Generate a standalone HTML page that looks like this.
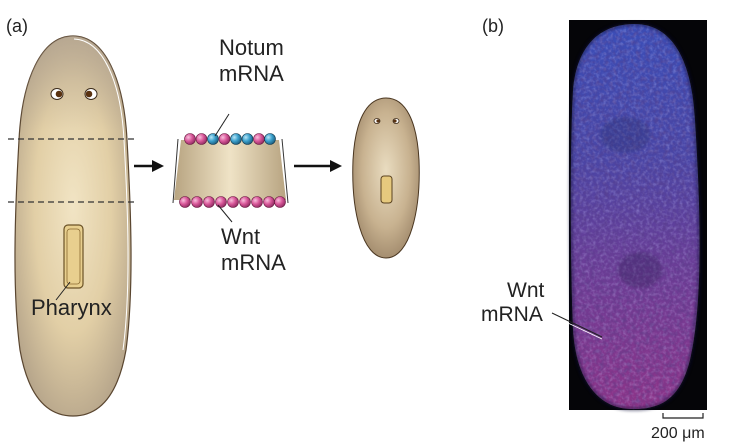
<!DOCTYPE html>
<html><head><meta charset="utf-8">
<style>
html,body{margin:0;padding:0;background:#fff;}
svg{display:block;font-family:"Liberation Sans",sans-serif;}
</style></head>
<body>
<svg width="730" height="442" viewBox="0 0 730 442">
<defs>
  <radialGradient id="body" cx="0.5" cy="0.45" r="0.6">
    <stop offset="0" stop-color="#f1e4c4"/>
    <stop offset="0.55" stop-color="#e2cfa6"/>
    <stop offset="1" stop-color="#b5a48a"/>
  </radialGradient>
  <linearGradient id="bodyTop" x1="0" y1="0" x2="0" y2="1">
    <stop offset="0" stop-color="#a89a8c" stop-opacity="0.6"/>
    <stop offset="0.25" stop-color="#a89a8c" stop-opacity="0"/>
  </linearGradient>
  <radialGradient id="small" cx="0.5" cy="0.45" r="0.6">
    <stop offset="0" stop-color="#e9dcc0"/>
    <stop offset="0.6" stop-color="#c8b290"/>
    <stop offset="1" stop-color="#9c8568"/>
  </radialGradient>
  <linearGradient id="frag" x1="0" y1="0" x2="1" y2="0">
    <stop offset="0" stop-color="#b8a481"/>
    <stop offset="0.5" stop-color="#efe3c6"/>
    <stop offset="1" stop-color="#b8a481"/>
  </linearGradient>
  <radialGradient id="pink" cx="0.35" cy="0.35" r="0.7">
    <stop offset="0" stop-color="#f8c0dc"/><stop offset="0.5" stop-color="#d9589a"/><stop offset="1" stop-color="#8e2a60"/>
  </radialGradient>
  <radialGradient id="blue" cx="0.35" cy="0.35" r="0.7">
    <stop offset="0" stop-color="#b9e6f6"/><stop offset="0.5" stop-color="#3aa0cc"/><stop offset="1" stop-color="#1c5a7a"/>
  </radialGradient>
  <linearGradient id="micro" x1="0" y1="0" x2="0" y2="1">
    <stop offset="0" stop-color="#3a4eb8"/>
    <stop offset="0.35" stop-color="#4a46a6"/>
    <stop offset="0.6" stop-color="#683e98"/>
    <stop offset="1" stop-color="#8e3488"/>
  </linearGradient>
  <filter id="grain" x="0" y="0" width="100%" height="100%">
    <feTurbulence type="fractalNoise" baseFrequency="0.3" numOctaves="2" seed="3" result="n"/>
    <feColorMatrix in="n" type="matrix" values="0 0 0 0 0.6  0 0 0 0 0.6  0 0 0 0 1  0 0 0 1.6 -0.65" result="c"/>
    <feComposite in="c" in2="SourceGraphic" operator="in"/>
  </filter>
  <filter id="grainDark" x="0" y="0" width="100%" height="100%">
    <feTurbulence type="fractalNoise" baseFrequency="0.22" numOctaves="2" seed="9" result="n"/>
    <feColorMatrix in="n" type="matrix" values="0 0 0 0 0.1  0 0 0 0 0.05  0 0 0 0 0.25  0 0 0 1.8 -0.7" result="c"/>
    <feComposite in="c" in2="SourceGraphic" operator="in"/>
  </filter>
  <filter id="soft"><feGaussianBlur stdDeviation="1.5"/></filter>
  <clipPath id="microClip"><path d="M635,24 C672,24 692,60 695,120 C700,200 704,300 690,360 C680,400 660,410 630,409 C598,408 576,380 573,330 C570,260 570,140 573,90 C577,45 600,24 635,24 Z"/></clipPath>
</defs>

<!-- Panel (a) -->
<text x="6" y="32" font-size="18" fill="#222">(a)</text>

<g>
  <path d="M73,36 C105,36 124,80 127,140 C131,210 134,290 126,350 C118,395 100,416 73,416 C46,416 28,395 20,350 C12,290 15,210 19,140 C22,80 41,36 73,36 Z" fill="url(#body)" stroke="#5a4630" stroke-width="1.2"/>
  <path d="M73,36 C105,36 124,80 127,140 C131,210 134,290 126,350 C118,395 100,416 73,416 C46,416 28,395 20,350 C12,290 15,210 19,140 C22,80 41,36 73,36 Z" fill="url(#bodyTop)"/>
  <path d="M74,39 C103,40 121,82 124,140 C128,210 131,290 123,350" fill="none" stroke="#fff" stroke-width="1"/>
  <g>
    <ellipse cx="57" cy="94" rx="6" ry="5.5" fill="#fff" stroke="#3a2a1a" stroke-width="1"/>
    <circle cx="59" cy="94" r="3.3" fill="#5a3210"/>
    <ellipse cx="91" cy="94" rx="6" ry="5.5" fill="#fff" stroke="#3a2a1a" stroke-width="1"/>
    <circle cx="89" cy="94" r="3.3" fill="#5a3210"/>
  </g>
  <rect x="64" y="225" width="19" height="63" rx="4" fill="#e8cf8e" stroke="#6b5226" stroke-width="1.2"/>
  <rect x="67" y="229" width="13" height="55" rx="3" fill="none" stroke="#8a6a30" stroke-width="0.8"/>
  <line x1="70" y1="282" x2="56" y2="300" stroke="#222" stroke-width="1"/>
  <text x="31" y="315" font-size="22" fill="#222">Pharynx</text>
</g>
<line x1="8" y1="139" x2="138" y2="139" stroke="#333" stroke-width="1.3" stroke-dasharray="6,4"/>
<line x1="8" y1="202" x2="138" y2="202" stroke="#333" stroke-width="1.3" stroke-dasharray="6,4"/>

<g>
  <line x1="134" y1="166" x2="154" y2="166" stroke="#111" stroke-width="2.5"/>
  <polygon points="152,160 164,166 152,172" fill="#111"/>
</g>

<g>
  <path d="M181,140 L279,140 L286,200 L174,200 Z" fill="url(#frag)"/>
  <line x1="178" y1="139" x2="173" y2="203" stroke="#333" stroke-width="1"/>
  <line x1="282" y1="139" x2="288" y2="203" stroke="#333" stroke-width="1"/>
  <g>
    <circle cx="190" cy="139" r="5.5" fill="url(#pink)" stroke="#6a1a40" stroke-width="0.6"/>
    <circle cx="201.5" cy="139" r="5.5" fill="url(#pink)" stroke="#6a1a40" stroke-width="0.6"/>
    <circle cx="213" cy="139" r="5.5" fill="url(#blue)" stroke="#123a50" stroke-width="0.6"/>
    <circle cx="224.5" cy="139" r="5.5" fill="url(#pink)" stroke="#6a1a40" stroke-width="0.6"/>
    <circle cx="236" cy="139" r="5.5" fill="url(#blue)" stroke="#123a50" stroke-width="0.6"/>
    <circle cx="247.5" cy="139" r="5.5" fill="url(#blue)" stroke="#123a50" stroke-width="0.6"/>
    <circle cx="259" cy="139" r="5.5" fill="url(#pink)" stroke="#6a1a40" stroke-width="0.6"/>
    <circle cx="270" cy="139" r="5.5" fill="url(#blue)" stroke="#123a50" stroke-width="0.6"/>
  </g>
  <g>
    <circle cx="185" cy="202" r="5.5" fill="url(#pink)" stroke="#6a1a40" stroke-width="0.6"/>
    <circle cx="197" cy="202" r="5.5" fill="url(#pink)" stroke="#6a1a40" stroke-width="0.6"/>
    <circle cx="209" cy="202" r="5.5" fill="url(#pink)" stroke="#6a1a40" stroke-width="0.6"/>
    <circle cx="221" cy="202" r="5.5" fill="url(#pink)" stroke="#6a1a40" stroke-width="0.6"/>
    <circle cx="233" cy="202" r="5.5" fill="url(#pink)" stroke="#6a1a40" stroke-width="0.6"/>
    <circle cx="245" cy="202" r="5.5" fill="url(#pink)" stroke="#6a1a40" stroke-width="0.6"/>
    <circle cx="257" cy="202" r="5.5" fill="url(#pink)" stroke="#6a1a40" stroke-width="0.6"/>
    <circle cx="269" cy="202" r="5.5" fill="url(#pink)" stroke="#6a1a40" stroke-width="0.6"/>
    <circle cx="280" cy="202" r="5.5" fill="url(#pink)" stroke="#6a1a40" stroke-width="0.6"/>
  </g>
</g>
<line x1="229" y1="114" x2="215" y2="136" stroke="#222" stroke-width="1"/>
<text x="219" y="55" font-size="22" fill="#222">Notum</text>
<text x="219" y="81" font-size="22" fill="#222">mRNA</text>
<line x1="218" y1="205" x2="232" y2="222" stroke="#222" stroke-width="1"/>
<text x="221" y="244" font-size="22" fill="#222">Wnt</text>
<text x="221" y="270" font-size="22" fill="#222">mRNA</text>

<g>
  <line x1="294" y1="166" x2="332" y2="166" stroke="#111" stroke-width="2.5"/>
  <polygon points="330,160 342,166 330,172" fill="#111"/>
</g>

<g>
  <path d="M386,98 C406,98 417,122 419,160 C421,210 410,258 386,258 C362,258 351,210 353,160 C355,122 366,98 386,98 Z" fill="url(#small)" stroke="#4a3620" stroke-width="1"/>
  <ellipse cx="377" cy="121" rx="3" ry="2.5" fill="#fff" stroke="#3a2a1a" stroke-width="0.8"/>
  <circle cx="378" cy="121" r="1.6" fill="#5a3210"/>
  <ellipse cx="396" cy="121" rx="3" ry="2.5" fill="#fff" stroke="#3a2a1a" stroke-width="0.8"/>
  <circle cx="395" cy="121" r="1.6" fill="#5a3210"/>
  <rect x="381" y="176" width="11" height="27" rx="3" fill="#e6c97e" stroke="#5a4220" stroke-width="1"/>
</g>

<!-- Panel (b) -->
<text x="482" y="32" font-size="18" fill="#222">(b)</text>
<g>
  <rect x="569" y="20" width="138" height="390" fill="#050508"/>
  <g clip-path="url(#microClip)">
    <rect x="569" y="20" width="138" height="390" fill="url(#micro)"/>
    <rect x="569" y="20" width="138" height="390" fill="#fff" filter="url(#grain)" opacity="0.4"/>
    <rect x="569" y="20" width="138" height="390" fill="#fff" filter="url(#grainDark)" opacity="0.6"/>
    <ellipse cx="640" cy="270" rx="22" ry="18" fill="#2a1a50" opacity="0.3" filter="url(#soft)"/>
    <ellipse cx="625" cy="135" rx="25" ry="18" fill="#1a2a60" opacity="0.25" filter="url(#soft)"/>
  </g>
  <path d="M635,24 C672,24 692,60 695,120 C700,200 704,300 690,360 C680,400 660,410 630,409 C598,408 576,380 573,330 C570,260 570,140 573,90 C577,45 600,24 635,24 Z" fill="none" stroke="#101030" stroke-width="3" opacity="0.6" filter="url(#soft)"/>
</g>
<text x="507" y="297" font-size="21" fill="#222">Wnt</text>
<text x="481" y="321" font-size="21" fill="#222">mRNA</text>
<line x1="552" y1="313" x2="602" y2="337" stroke="#222" stroke-width="1"/>
<line x1="553" y1="316" x2="602" y2="339" stroke="#fff" stroke-width="0.8"/>
<g>
  <path d="M663,413 L663,418 L703,418 L703,413" fill="none" stroke="#222" stroke-width="1.2"/>
</g>
<text x="651" y="438" font-size="16" fill="#222">200 μm</text>
</svg>
</body></html>
